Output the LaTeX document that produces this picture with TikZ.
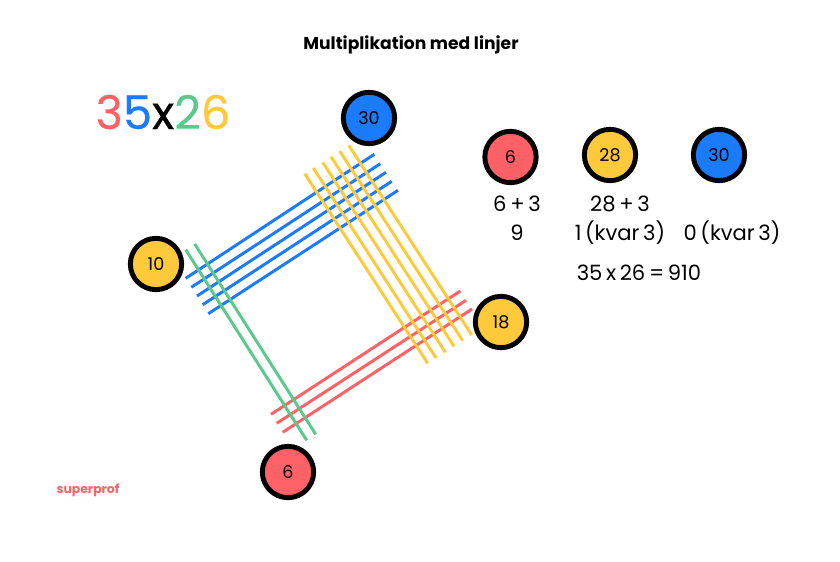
\documentclass[tikz,border=0pt]{standalone}
\usepackage{fontspec}
\setmainfont{Poppins}
\newfontfamily\calcfont{Poppins}[WordSpace=0.65]
\newfontfamily\heavyfont{Poppins}[FakeBold=0.35]
\definecolor{redline}{HTML}{FF6166}
\definecolor{blueline}{HTML}{1A7BFF}
\definecolor{greenline}{HTML}{5BC98C}
\definecolor{yellowline}{HTML}{FFC93C}
\tikzset{
    stick/.style={line width=2.1pt},
    ball/.style={circle, draw=black, line width=3.5pt, minimum size=36.5pt, inner sep=0pt, font=\fontsize{12.5}{14}\selectfont},
    calc/.style={inner sep=0pt, font=\fontsize{15}{18}\selectfont\calcfont}
}

\begin{document}
\begin{tikzpicture}[x=0.025cm, y=-0.025cm]
    \useasboundingbox (0, 0) rectangle (840, 561);
    \node [inner sep=0pt, font=\fontsize{12.2}{15}\selectfont\bfseries] (title) at (411, 45) {Multiplikation med linjer};
    \node [inner sep=0pt, font=\fontsize{33}{36}\selectfont\heavyfont] (factors) at (163, 112) {\textcolor{redline}{3}\textcolor{blueline}{5}x\textcolor{greenline}{2}\textcolor{yellowline}{6}};
    % lines
    \foreach \xa/\ya/\xb/\yb in {185.7/278.3/374.3/154.3, 191.3/287.3/380.3/163.7, 197/296/386/172.3, 202.7/304.7/391.7/181.3, 208.3/313.7/398/190.3}
        \draw [stick, blueline] (\xa, \ya) -- (\xb, \yb);
    \foreach \xa/\ya/\xb/\yb in {271/414.3/460.3/291, 276.7/423.3/466/300.3, 282.7/432.3/472/309}
        \draw [stick, redline] (\xa, \ya) -- (\xb, \yb);
    \foreach \xa/\ya/\xb/\yb in {304.7/173.7/427.7/363.3, 313.3/168/436/358, 322.7/162.3/445.3/352.3, 331/156.7/454/346.3, 339.7/151/462.7/340.7, 348.7/145.3/471.7/335}
        \draw [stick, yellowline] (\xa, \ya) -- (\xb, \yb);
    \foreach \xa/\ya/\xb/\yb in {185.7/249.7/306.7/440.3, 194.7/244/315.7/434.3}
        \draw [stick, greenline] (\xa, \ya) -- (\xb, \yb);
    % crossing counts
    \node [ball, fill=blueline] (topblue) at (369, 118) {30};
    \node [ball, fill=yellowline] (leftyellow) at (156, 264) {10};
    \node [ball, fill=yellowline] (rightyellow) at (501, 322) {18};
    \node [ball, fill=redline] (lowred) at (288, 472) {6};
    \node [ball, fill=redline] (sumred) at (510.5, 157) {6};
    \node [ball, fill=yellowline] (sumyellow) at (610, 155) {28};
    \node [ball, fill=blueline] (sumblue) at (719, 155) {30};
    % sums
    \node [calc] (addred) at (517, 204) {6 + 3};
    \node [calc] (resred) at (517, 233) {9};
    \node [calc] (addyellow) at (620, 204) {28 + 3};
    \node [calc] (resyellow) at (620, 233) {1 (kvar 3)};
    \node [calc] (resblue) at (732, 233) {0 (kvar 3)};
    \node [calc] (result) at (639, 273) {35 x 26 = 910};
    \node [inner sep=0pt, text=redline, font=\fontsize{8.8}{10}\selectfont\bfseries] (brand) at (88, 490) {superprof};
\end{tikzpicture}
\end{document}
